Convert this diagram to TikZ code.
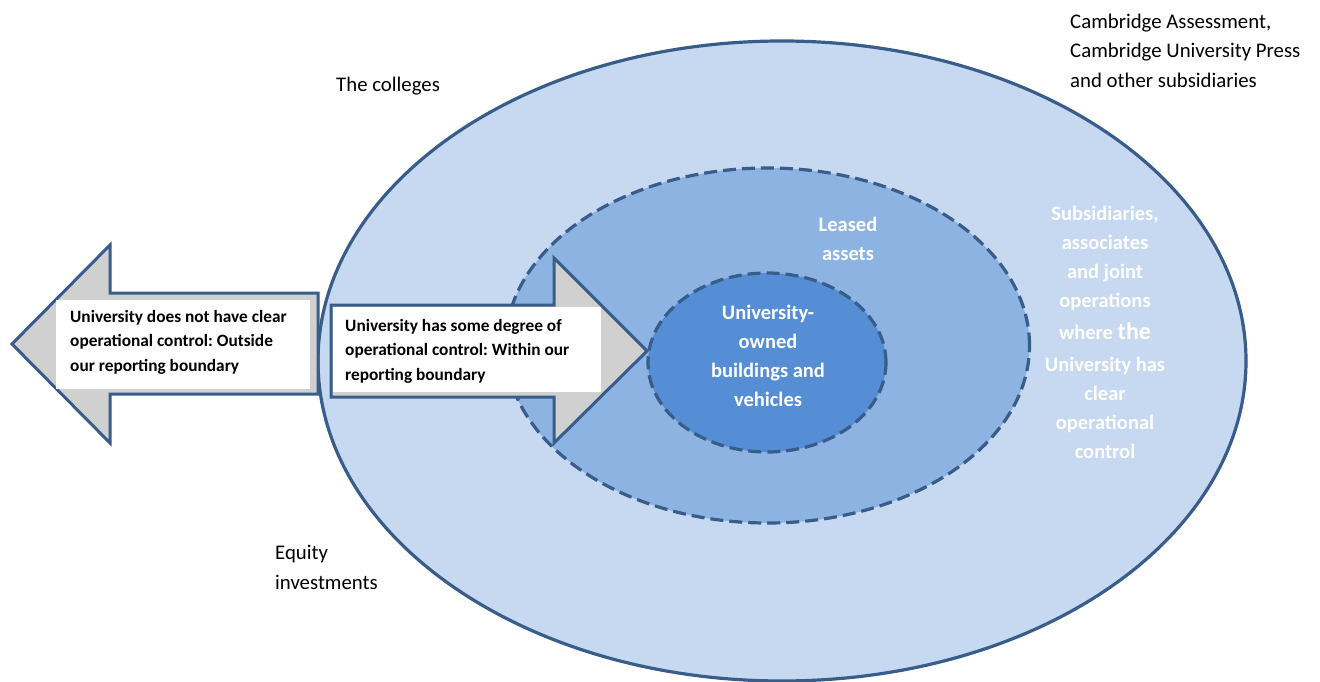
\documentclass[tikz,border=0pt]{standalone}
\usepackage{fontspec}
\setmainfont{Carlito}
\frenchspacing
\definecolor{outerfill}{HTML}{C6D9F1}
\definecolor{midfill}{HTML}{8DB3E2}
\definecolor{innerfill}{HTML}{558ED5}
\definecolor{edgeblue}{HTML}{385D8A}
\definecolor{arrowgrey}{HTML}{D0D0D0}
\begin{document}
\begin{tikzpicture}[x=1pt,y=-1pt,
  solidring/.style={draw=edgeblue,line width=3.2pt},
  dashring/.style={draw=edgeblue,line width=3.2pt,dash pattern=on 13pt off 6pt},
  bigarrow/.style={draw=edgeblue,line width=3pt,fill=arrowgrey,line join=miter},
  whitebox/.style={fill=white,draw=none},
  plainlabel/.style={inner sep=0pt,text=black,font=\fontsize{20.8}{29.5}\selectfont},
  boxlabel/.style={inner sep=0pt,text=black,align=left,font=\bfseries\fontsize{17.3}{24.5}\selectfont},
  whitelabel/.style={inner sep=0pt,text=white,align=center,font=\bfseries\fontsize{20.5}{29}\selectfont}
]
\useasboundingbox (0,0) rectangle (1320,682);

% rings
\path[solidring,fill=outerfill] (782,361) ellipse [x radius=464pt, y radius=320pt];
\path[dashring,fill=midfill] (767.5,345.5) ellipse [x radius=262pt, y radius=177.5pt];
\path[dashring,fill=innerfill] (767,362.5) ellipse [x radius=119pt, y radius=89.5pt];

% left arrow
\path[bigarrow] (318,293) -- (110,293) -- (110,245) -- (12,344) -- (110,443) -- (110,394) -- (318,394) -- cycle;
\path[whitebox] (56,300) rectangle (310,389);
% right arrow
\path[bigarrow] (331,305) -- (554,305) -- (554,258) -- (647,351) -- (554,443) -- (554,397) -- (331,397) -- cycle;
\path[whitebox] (333,307) rectangle (601,392);

% labels
\node[boxlabel,anchor=west] (outside) at (70,342) {University does not have clear\\operational control: Outside\\our reporting boundary};
\node[boxlabel,anchor=west] (within) at (345,351) {University has some degree of\\operational control: Within our\\reporting boundary};

\node[whitelabel] (owned) at (768,355.5) {University-\\owned\\buildings and\\vehicles};
\node[whitelabel,font=\bfseries\fontsize{20.5}{28.5}\selectfont] (leased) at (848,239) {Leased\\assets};
\node[whitelabel] (subs) at (1105,332) {Subsidiaries,\\associates\\and joint\\operations\\[3pt]where {\fontsize{24}{29}\selectfont the}\\[3pt]University has\\clear\\operational\\control};

\node[plainlabel,anchor=west] (colleges) at (336,86) {The colleges};
\node[plainlabel,anchor=west,align=left] (equity) at (275,567.5) {Equity\\investments};
\node[plainlabel,anchor=west,align=left] (cambridge) at (1070,50.7) {Cambridge Assessment,\\Cambridge University Press\\and other subsidiaries};
\end{tikzpicture}
\end{document}
